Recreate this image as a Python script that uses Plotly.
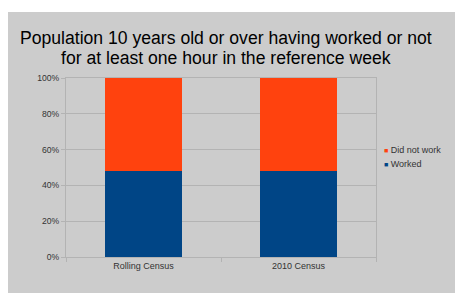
import plotly.graph_objects as go

categories = ["Rolling Census", "2010 Census"]
worked = [48.0, 48.0]
did_not_work = [52.0, 52.0]
series_names = ["Worked", "Did not work"]
colors = ["#004586", "#ff420e"]
y_ticks = [0, 20, 40, 60, 80, 100]
y_tick_labels = ["0%", "20%", "40%", "60%", "80%", "100%"]
title_lines = ["Population 10 years old or over having worked or not",
               "for at least one hour in the reference week"]

W, H = 463, 293
OFF = 8  # page body margin offset
ml, mr, mt, mb = 66 - OFF, W - (376 - OFF), 78 - OFF, H - (257 - OFF)
pw, ph = W - ml - mr, H - mt - mb

def px_x(p):
    return (p - OFF - ml) / pw

def px_y(p):
    return (H - mb - (p - OFF)) / ph

fig = go.Figure()
fig.add_trace(go.Bar(x=categories, y=worked, name=series_names[0],
                     marker=dict(color=colors[0], line=dict(width=0)), showlegend=False))
fig.add_trace(go.Bar(x=categories, y=did_not_work, name=series_names[1],
                     marker=dict(color=colors[1], line=dict(width=0)), showlegend=False))

font_family = "Liberation Sans, Arial, sans-serif"

fig.update_layout(
    width=W, height=H,
    margin=dict(l=ml, r=mr, t=mt, b=mb),
    paper_bgcolor="white",
    plot_bgcolor="white",
    barmode="stack",
    bargap=0.5,
    showlegend=False,
    font=dict(family=font_family, size=9, color="#333333"),
    xaxis=dict(
        showgrid=False, showline=True, linecolor="#b3b3b3", linewidth=1, mirror=True,
        ticks="outside", tickson="boundaries", ticklen=4, tickcolor="#b3b3b3",
        tickfont=dict(size=9, color="#333333"),
    ),
    yaxis=dict(
        range=[0, 100], tickvals=y_ticks, ticktext=y_tick_labels,
        showgrid=True, gridcolor="#b3b3b3", gridwidth=1,
        showline=True, linecolor="#b3b3b3", linewidth=1, mirror=True,
        ticks="outside", ticklen=4, tickcolor="#b3b3b3",
        tickfont=dict(size=8.6, color="#333333"), zeroline=False,
    ),
    shapes=[dict(type="rect", xref="paper", yref="paper",
                 x0=px_x(0), x1=px_x(W + 20), y0=px_y(H + 20), y1=px_y(12),
                 fillcolor="#cccccc", line=dict(width=0), layer="below")],
)

# title, two lines
for line, cy in zip(title_lines, [38.2, 58.5]):
    fig.add_annotation(
        xref="paper", yref="paper", x=px_x(225.7), y=px_y(cy),
        xanchor="center", yanchor="middle", showarrow=False, text=line,
        font=dict(family=font_family, size=17.6, color="#000000"),
    )

# legend drawn as text entries (top: Did not work, bottom: Worked)
legend_rows = [(series_names[1], colors[1], 150), (series_names[0], colors[0], 164)]
for name, col, py in legend_rows:
    fig.add_annotation(
        xref="paper", yref="paper", x=px_x(382), y=px_y(py),
        xanchor="left", yanchor="middle", showarrow=False,
        text=f'<span style="color:{col};font-size:7px">■</span> {name}',
        font=dict(family=font_family, size=9, color="#333333"),
    )

fig.write_html("out.html")
